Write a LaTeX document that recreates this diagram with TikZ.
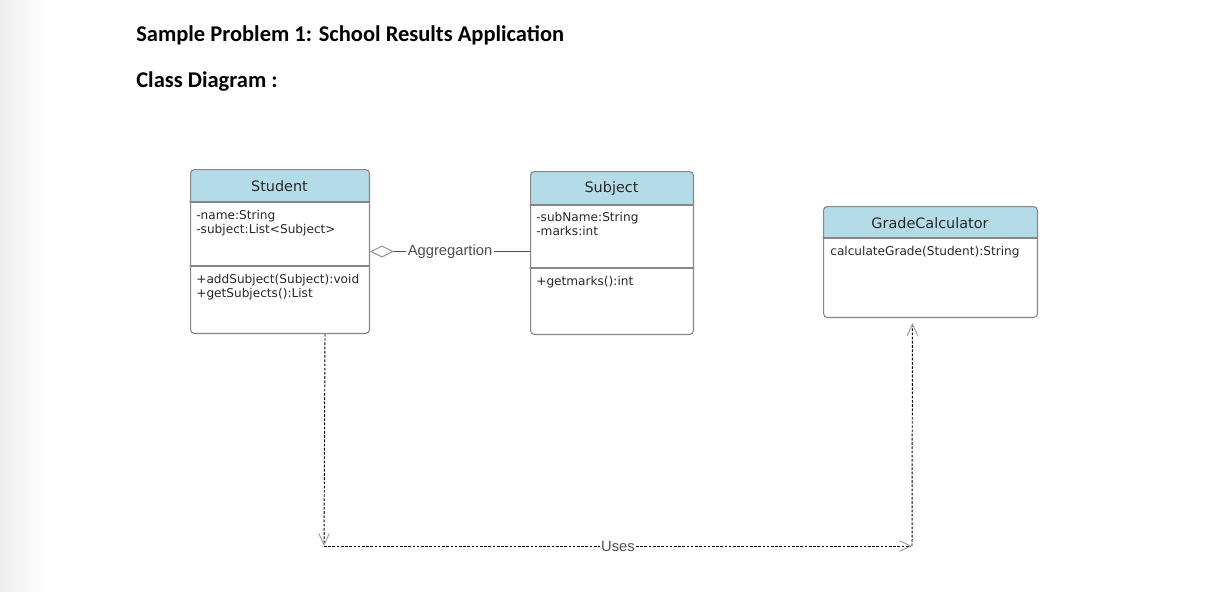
\documentclass[tikz,border=0pt]{standalone}
\usepackage{fontspec}
\setmainfont{Carlito}
\newfontfamily\umlfont{DejaVu Sans}
\newfontfamily\labelfont{Liberation Sans}
\usetikzlibrary{arrows.meta,calc}

\definecolor{headblue}{RGB}{180,220,232}
\definecolor{boxline}{RGB}{135,135,135}
\definecolor{umltext}{RGB}{40,40,40}
\definecolor{linkgray}{RGB}{80,80,80}

\begin{document}
\begin{tikzpicture}[
						x=0.02cm, y=-0.02cm,
						line cap=round,
						line join=round,
						classbox/.style={draw=boxline, line width=0.6pt, rounded corners=0.08cm, inner sep=0pt, anchor=north west},
						classname/.style={font=\umlfont\fontsize{8.2}{10}\selectfont, text=umltext},
						members/.style={font=\umlfont\fontsize{6.9}{8.3}\selectfont, text=umltext, align=left, inner sep=0pt, anchor=north west},
						linklabel/.style={font=\labelfont\fontsize{8.4}{10}\selectfont, text=linkgray, fill=white, inner sep=1pt},
						heading/.style={font=\bfseries\fontsize{12.8}{15}\selectfont, anchor=base west, inner sep=0pt},
						usesline/.style={dash pattern=on 1.5pt off 0.9pt, line cap=butt, line width=0.55pt, -{Straight Barb[length=6.5pt, width=6pt, color=gray!75]}}
						]
						
						% Page and left shadow
						\useasboundingbox (0,0) rectangle (1205,592);
						\fill[white] (0,0) rectangle (1205,592);
						\shade[left color=gray!14, right color=white] (0,0) rectangle (45,592);
						
						% Headings
						\node[heading] (title) at (136,41) {Sample Problem 1: School Results Application};
						\node[heading] (subtitle) at (136,87) {Class Diagram :};
						
						% Student class
						\fill[headblue] (190,202) [rounded corners=0.08cm] -- (190,169) -- (369,169) [sharp corners] -- (369,202) -- cycle;
						\node[classbox, minimum width=3.58cm, minimum height=3.28cm] (student) at (190,169) {};
						\draw[boxline, line width=0.6pt] (190,202) -- (369,202);
						\draw[boxline, line width=0.6pt] (190,266) -- (369,266);
						\node[classname] (studentname) at (279.5,186.5) {Student};
						\node[members] (studentattr) at (196,209.5) {-name:String\\-subject:List<Subject>};
						\node[members] (studentops) at (196,273.5) {+addSubject(Subject):void\\+getSubjects():List};
						
						% Subject class
						\fill[headblue] (530,205) [rounded corners=0.08cm] -- (530,171) -- (693,171) [sharp corners] -- (693,205) -- cycle;
						\node[classbox, minimum width=3.26cm, minimum height=3.26cm] (subject) at (530,171) {};
						\draw[boxline, line width=0.6pt] (530,205) -- (693,205);
						\draw[boxline, line width=0.6pt] (530,268) -- (693,268);
						\node[classname] (subjectname) at (611.5,189) {Subject};
						\node[members] (subjectattr) at (536,211.5) {-subName:String\\-marks:int};
						\node[members] (subjectops) at (536,275.5) {+getmarks():int};
						
						% GradeCalculator class
						\fill[headblue] (823,238) [rounded corners=0.08cm] -- (823,206) -- (1037,206) [sharp corners] -- (1037,238) -- cycle;
						\node[classbox, minimum width=4.28cm, minimum height=2.22cm] (grade) at (823,206) {};
						\draw[boxline, line width=0.6pt] (823,238) -- (1037,238);
						\node[classname] (gradename) at (930,223.5) {GradeCalculator};
						\node[members] (gradeops) at (830,245.5) {calculateGrade(Student):String};
						
						% Aggregation
						\draw[linkgray, line width=0.6pt, {Diamond[open, length=24*0.02cm, width=12*0.02cm, color=gray!80]}-] (student.east) -- node[linklabel] (agglabel) {Aggregartion} (student.east -| subject.west);
						
						% Uses
						\coordinate (usesL) at (324,546);
						\coordinate (usesR) at (912,546);
						\draw[usesline] ($(student.south west)!0.75!(student.south east)$) -- (usesL);
						\draw[usesline] (usesL) -- node[linklabel, inner sep=0.5pt] (useslabel) {Uses} (usesR);
						\draw[usesline] (usesR) -- ($(grade.south west)!0.416!(grade.south east)+(0,5)$);
						
					\end{tikzpicture}
\end{document}
